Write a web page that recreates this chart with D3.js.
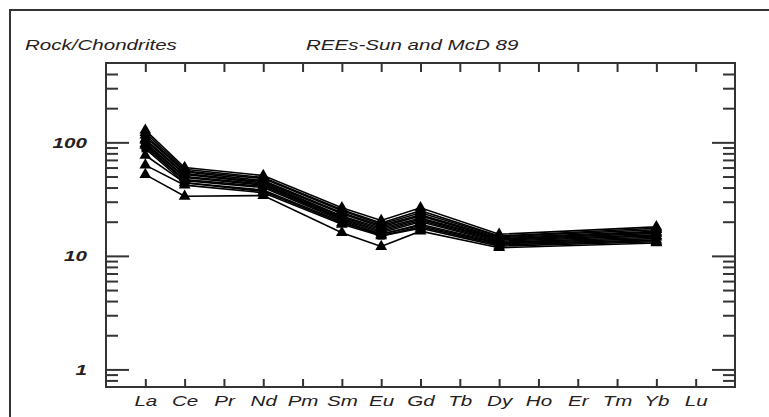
<!DOCTYPE html>
<html>
<head>
<meta charset="utf-8">
<script src="https://cdn.jsdelivr.net/npm/d3@7"></script>
<style>
  body { margin: 0; background: #fff; }
  text { font-family: "Liberation Sans", Arial, sans-serif; font-style: italic; fill: #262020; }
</style>
</head>
<body>
<svg id="chart"></svg>
<script>
// REE elements along the x axis (all 15 are ticked, only some are measured)
const elements = ['La','Ce','Pr','Nd','Pm','Sm','Eu','Gd','Tb','Dy','Ho','Er','Tm','Yb','Lu'];
const measured = ['La','Ce','Nd','Sm','Eu','Gd','Dy','Yb'];

// chondrite-normalised values for each sample, in the order of `measured`
const s01 = [128, 60, 51, 26.5, 20.5, 26.5, 15.5, 18.0];
const s02 = [122, 58, 49, 25.5, 19.5, 25, 15.0, 17.5];
const s03 = [116, 56, 48, 25, 19, 24, 14.8, 17];
const s04 = [112, 55, 46, 24, 18.5, 23, 14.5, 16.5];
const s05 = [107, 53, 45, 23.5, 18, 22.5, 14.2, 16.2];
const s06 = [104, 52, 44, 22.5, 17.5, 21.5, 14, 15.8];
const s07 = [100, 50, 43, 22, 17, 21, 13.8, 15.3];
const s08 = [97, 49, 42, 21.5, 16.5, 20.5, 13.5, 15];
const s09 = [94, 47, 41, 21, 16, 20, 13.2, 14.6];
const s10 = [91, 46, 40, 20.5, 15.5, 19, 13, 14.2];
const s11 = [88, 44, 38, 20, 15, 18, 12.5, 13.6];
const s12 = [77, 44, 37, 19.5, 15.5, 18.5, 12.8, 13.8];
const s13 = [63, 42, 36, 19, 15, 17.5, 12.2, 13.3];
const s14 = [52, 33.5, 34, 16, 12.1, 16.5, 11.8, 13];

const samples = [s01, s02, s03, s04, s05, s06, s07, s08, s09, s10, s11, s12, s13, s14];
const squareSamples = [3, 6, 9, 10];   // indices drawn with square markers

const yMajor = [1, 10, 100];
const yMinor = [0.8, 0.9, 2, 3, 4, 5, 6, 7, 8, 9, 20, 30, 40, 50, 60, 70, 80, 90, 200, 300, 400];

const W = 769, H = 417;
const plot = {left: 106, right: 735, top: 63, bottom: 387};
const stretch = 'scale(1.37,1)';   // the original picture is stretched sideways

const svg = d3.select('#chart').attr('width', W).attr('height', H);

// outer frame (runs off the right and bottom of the picture)
svg.append('rect')
  .attr('x', 10).attr('y', 10).attr('width', 800).attr('height', 500)
  .attr('fill', 'none').attr('stroke', '#333').attr('stroke-width', 2);

const x = d3.scalePoint().domain(elements).range([plot.left, plot.right]).padding(1);
const y = d3.scaleLog().domain([0.7, 500]).range([plot.bottom, plot.top]);

// axes with inward ticks on all four sides
const xBottom = svg.append('g').attr('transform', `translate(0,${plot.bottom})`)
  .call(d3.axisBottom(x).tickSize(-8).tickPadding(8));
xBottom.selectAll('text').attr('transform', stretch).style('font-size', '15px');

svg.append('g').attr('transform', `translate(0,${plot.top})`)
  .call(d3.axisTop(x).tickSize(-9).tickFormat(''));

const yLeft = svg.append('g').attr('transform', `translate(${plot.left},0)`)
  .call(d3.axisLeft(y).tickValues(yMajor).tickSize(-23).tickPadding(14).tickFormat(d3.format('d')));
yLeft.selectAll('text').attr('transform', stretch)
  .style('font-size', '15px').style('font-weight', 'bold');

svg.append('g').attr('transform', `translate(${plot.left},0)`)
  .call(d3.axisLeft(y).tickValues(yMinor).tickSize(-12).tickFormat(''));
svg.append('g').attr('transform', `translate(${plot.right},0)`)
  .call(d3.axisRight(y).tickValues(yMajor).tickSize(-23).tickFormat(''));
svg.append('g').attr('transform', `translate(${plot.right},0)`)
  .call(d3.axisRight(y).tickValues(yMinor).tickSize(-12).tickFormat(''));

svg.selectAll('.domain').remove();
svg.selectAll('.tick line').attr('stroke', '#333').attr('stroke-width', 2);

svg.append('rect')
  .attr('x', plot.left).attr('y', plot.top)
  .attr('width', plot.right - plot.left).attr('height', plot.bottom - plot.top)
  .attr('fill', 'none').attr('stroke', '#333').attr('stroke-width', 2);

// titles
svg.append('text').attr('transform', `translate(25,50) ${stretch}`)
  .style('font-size', '15px').text('Rock/Chondrites');
svg.append('text').attr('transform', `translate(306,50) ${stretch}`)
  .style('font-size', '15px').text('REEs-Sun and McD 89');

// sample lines and markers
const line = d3.line().x((d, i) => x(measured[i])).y(d => y(d));
const tri = d3.symbol(d3.symbolTriangle, 60);
const sq = d3.symbol(d3.symbolSquare, 56);

const series = svg.append('g').selectAll('g').data(samples).join('g');
series.append('path')
  .attr('d', line)
  .attr('fill', 'none').attr('stroke', '#000').attr('stroke-width', 1.6);
series.each(function(vals, si) {
  d3.select(this).selectAll('path.pt').data(vals).join('path')
    .attr('class', 'pt')
    .attr('transform', (d, i) => `translate(${x(measured[i])},${y(d)})`)
    .attr('d', squareSamples.includes(si) ? sq : tri)
    .attr('fill', '#000');
});
</script>
</body>
</html>
